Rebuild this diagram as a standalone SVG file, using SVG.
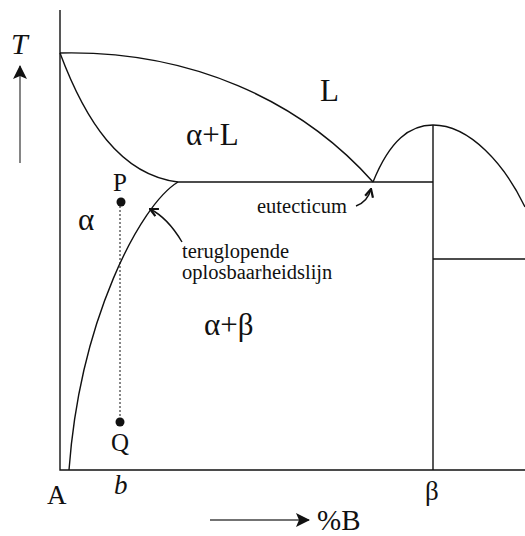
<svg xmlns="http://www.w3.org/2000/svg" width="525" height="536" viewBox="0 0 525 536">
<style>
.ln{fill:none;stroke:#111;stroke-width:1.4}
text{font-family:'Liberation Serif','Times New Roman','DejaVu Serif',serif;fill:#111}
.big{font-size:31px}
.mid{font-size:27px}
.sm{font-size:20.5px}
</style>
<defs>
<marker id="ah" viewBox="0 0 14 14" refX="13" refY="7" markerWidth="16" markerHeight="14" orient="auto" markerUnits="userSpaceOnUse">
<path d="M0,0 L14,7 L0,14 L3,7 z" fill="#111"/>
</marker>
<marker id="oh" viewBox="0 0 10 10" refX="9" refY="5" markerWidth="10" markerHeight="10" orient="auto" markerUnits="userSpaceOnUse">
<path d="M1,1 L9,5 L1,9" fill="none" stroke="#111" stroke-width="2.2"/>
</marker>
</defs>
<rect width="525" height="536" fill="#fff"/>
<g id="axes">
<path class="ln" d="M60,10 V470 H525"/>
<path class="ln" d="M433,125 V470"/>
<path class="ln" d="M433,259 H525"/>
<path d="M20,163 V66" fill="none" stroke="#444" stroke-width="1.3" marker-end="url(#ah)"/>
<path d="M210,520 H309" fill="none" stroke="#444" stroke-width="1.3" marker-end="url(#ah)"/>
</g>
<g id="curves">
<path id="liquidus" class="ln" d="M60,53 C190,50 300,100 373,182"/>
<path id="solidus" class="ln" d="M60,53 C85,120 120,175 178,182"/>
<path id="eutectic" class="ln" d="M178,182 H433"/>
<path id="solvus" class="ln" d="M178,182 C140,205 80,320 69,470"/>
<path id="hump" class="ln" d="M373,182 C390,140 410,125 433,125 C470,125 505,165 525,207"/>
<path id="PQ" d="M120,202 V422" fill="none" stroke="#111" stroke-width="1" stroke-dasharray="2,2"/>
</g>
<g id="connectors">
<path class="ln" d="M356,206 C364,203 369,197 371,189" marker-end="url(#oh)"/>
<path class="ln" d="M182,242 C172,225 162,215 150,209" marker-end="url(#oh)"/>
</g>
<g id="points">
<circle cx="121" cy="202" r="4.5" fill="#111"/>
<circle cx="120" cy="422" r="4.5" fill="#111"/>
</g>
<g id="labels">
<text x="11" y="54" font-size="30" font-style="italic" style="font-size:30px">T</text>
<text class="big" x="320" y="101">L</text>
<text class="big" x="186" y="145">α+L</text>
<text class="big" x="78" y="230">α</text>
<text class="big" x="204" y="335">α+β</text>
<text x="113" y="191" style="font-size:25px">P</text>
<text x="111" y="451" style="font-size:25px">Q</text>
<text class="sm" x="257" y="213">eutecticum</text>
<text class="sm" x="182" y="258">teruglopende</text>
<text class="sm" x="182" y="279">oplosbaarheidslijn</text>
<text class="mid" x="47" y="504">A</text>
<text class="mid" x="114" y="494" font-style="italic">b</text>
<text class="mid" x="425" y="500">β</text>
<text x="317" y="530" style="font-size:29px">%B</text>
</g>
</svg>
